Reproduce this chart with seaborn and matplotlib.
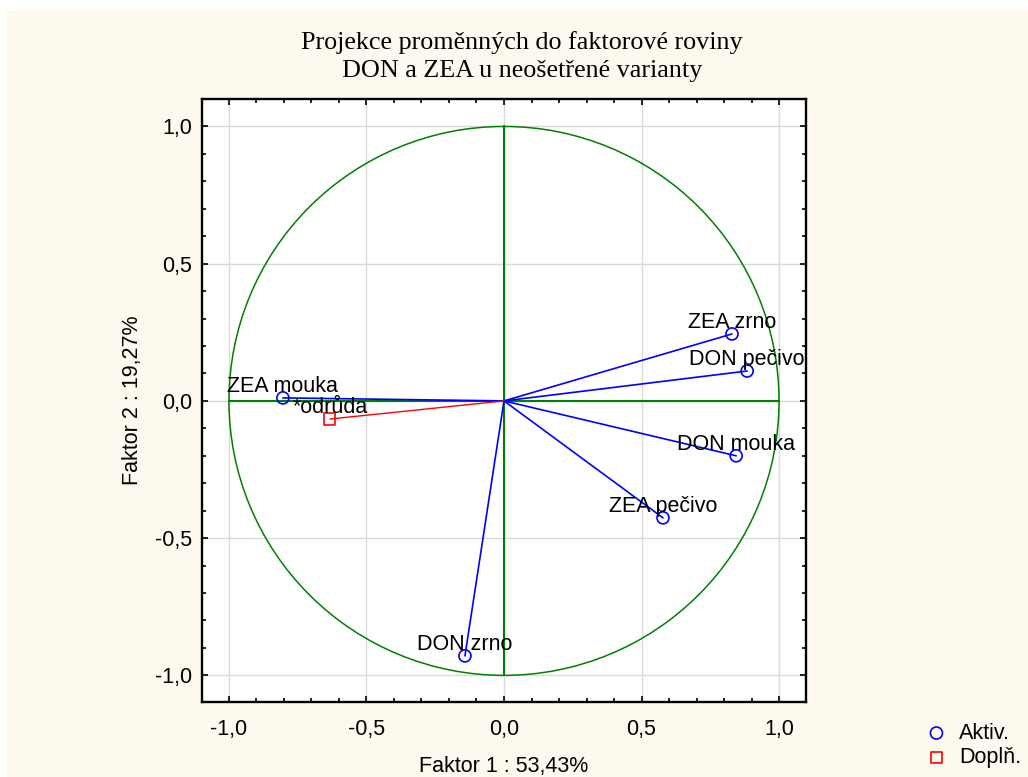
import numpy as np
import matplotlib
matplotlib.use("Agg")
import matplotlib.pyplot as plt
import seaborn as sns
from matplotlib.patches import Circle, Rectangle
from matplotlib.ticker import MultipleLocator, FuncFormatter

# active variables (factor loadings)
labels = ['ZEA zrno', 'DON pečivo', 'DON mouka', 'ZEA pečivo', 'DON zrno', 'ZEA mouka']
faktor1 = [0.829, 0.884, 0.844, 0.578, -0.142, -0.804]
faktor2 = [0.244, 0.109, -0.200, -0.426, -0.929, 0.011]

# supplementary variable
supp_labels = ['*odrůda']
supp_f1 = [-0.633]
supp_f2 = [-0.066]

title_lines = ['Projekce proměnných do faktorové roviny', 'DON a ZEA u neošetřené varianty']
xlabel = 'Faktor 1 : 53,43%'
ylabel = 'Faktor 2 : 19,27%'
legend_labels = ['Aktiv.', 'Doplň.']

FS = 15.5

sns.set_style("ticks")
plt.rcParams['font.family'] = ['Liberation Sans', 'DejaVu Sans']
plt.rcParams['text.color'] = 'black'
plt.rcParams['axes.labelcolor'] = 'black'
plt.rcParams['xtick.color'] = 'black'
plt.rcParams['ytick.color'] = 'black'

fig = plt.figure(figsize=(10.28, 7.77), dpi=100, facecolor='white')
# cream background (thin white strip at top/left like the original export)
fig.patches.append(Rectangle((6 / 1028, 0), 1, 1 - 10 / 777, transform=fig.transFigure,
                             facecolor='#fef9ee', edgecolor='none', zorder=-10))
ax = fig.add_axes([202 / 1028, 1 - 702 / 777, 604 / 1028, 603 / 777])
ax.set_facecolor('white')

ax.set_xlim(-1.098, 1.098)
ax.set_ylim(-1.097, 1.1)

# grid and reference lines
ax.grid(True, which='major', color='#dadada', lw=1.0, zorder=0)
ax.add_patch(Circle((0, 0), 1.0, fill=False, edgecolor='#008000', lw=1.1, zorder=2))
ax.plot([-1, 1], [0, 0], color='#008000', lw=1.5, zorder=2)
ax.plot([0, 0], [-1, 1], color='#008000', lw=1.5, zorder=2)

# rays from origin
for x, y in zip(faktor1, faktor2):
    ax.plot([0, x], [0, y], color='#0000ff', lw=1.2, zorder=3)
for x, y in zip(supp_f1, supp_f2):
    ax.plot([0, x], [0, y], color='#ff0000', lw=1.0, zorder=3)

sns.scatterplot(x=faktor1, y=faktor2, marker='o', s=75, facecolor='none',
                edgecolor='#0000ff', linewidth=1.2, ax=ax, zorder=4, label=legend_labels[0])
sns.scatterplot(x=supp_f1, y=supp_f2, marker='s', s=65, facecolor='none',
                edgecolor='#ff0000', linewidth=1.2, ax=ax, zorder=4, label=legend_labels[1])

for lab, x, y in zip(labels + supp_labels, faktor1 + supp_f1, faktor2 + supp_f2):
    ax.annotate(lab, (x, y), xytext=(0, 4), textcoords='offset points',
                ha='center', va='baseline', fontsize=FS, color='black', zorder=5)

# ticks
fmt = FuncFormatter(lambda v, p: f"{v:.1f}".replace('.', ',').replace('−', '-'))
ax.xaxis.set_major_locator(MultipleLocator(0.5))
ax.yaxis.set_major_locator(MultipleLocator(0.5))
ax.xaxis.set_minor_locator(MultipleLocator(0.1))
ax.yaxis.set_minor_locator(MultipleLocator(0.1))
ax.xaxis.set_major_formatter(fmt)
ax.yaxis.set_major_formatter(fmt)
ax.tick_params(which='both', direction='in', top=True, right=True, color='black',
               labelcolor='black', width=1.2)
ax.tick_params(which='major', length=4)
ax.tick_params(which='minor', length=3)
ax.tick_params(axis='x', which='major', pad=12, labelsize=FS)
ax.tick_params(axis='y', which='major', pad=7, labelsize=FS)
for sp in ax.spines.values():
    sp.set_linewidth(1.7)
    sp.set_color('black')

ax.set_xlabel(xlabel, fontsize=FS, labelpad=12)
ax.set_ylabel(ylabel, fontsize=FS, labelpad=9)

fig.text(0.508, 1 - 43 / 777, title_lines[0], ha='center', va='center',
         fontsize=18.8, family='Liberation Serif')
fig.text(0.508, 1 - 71 / 777, title_lines[1], ha='center', va='center',
         fontsize=18.8, family='Liberation Serif')

ax.legend(loc='upper left', bbox_to_anchor=(0.89, 0.081), bbox_transform=fig.transFigure,
          frameon=False, fontsize=FS, handletextpad=0.45, labelspacing=0.15,
          handlelength=1.2, borderaxespad=0)

fig.savefig('out.png', dpi=100, facecolor=fig.get_facecolor())
